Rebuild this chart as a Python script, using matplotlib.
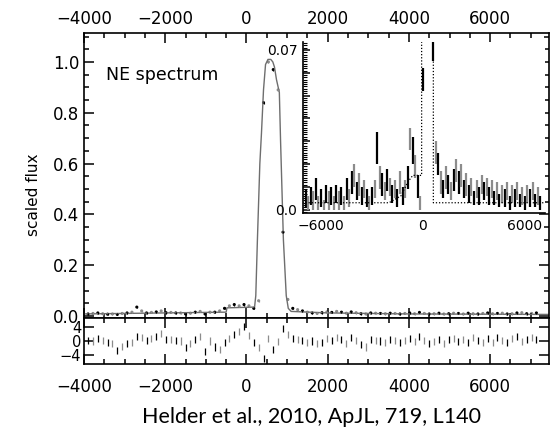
import numpy as np
import matplotlib.pyplot as plt
from matplotlib.ticker import MultipleLocator, FixedLocator, FuncFormatter

# main panel model (gray solid line), velocity in km/s
model_v = [-4000, -2000, -500, -480, 200, 230, 270, 330, 370, 420, 470, 530, 600,
           650, 690, 740, 810, 840, 910, 980, 1030, 1100, 2000, 4000, 7500]
model_f = [0.008, 0.012, 0.015, 0.032, 0.035, 0.08, 0.3, 0.6, 0.72, 0.89, 0.99, 1.01, 1.01,
           1.0, 0.98, 0.93, 0.88, 0.69, 0.3, 0.08, 0.03, 0.018, 0.012, 0.008, 0.006]

# binned data of the main panel and residuals (bins of 120 km/s from -3900)
main_flux = [0.008, 0.010, 0.012, 0.009, 0.007, 0.008, 0.006, 0.010, 0.012, 0.015,
             0.035, 0.020, 0.012, 0.014, 0.016, 0.020, 0.013, 0.014, 0.012, 0.012,
             0.008, 0.011, 0.015, 0.018, 0.008, 0.015, 0.015, 0.020, 0.030, 0.040,
             0.045, 0.040, 0.045, 0.040, 0.030, 0.060, 0.840, 1.000, 0.970, 0.890,
             0.330, 0.065, 0.030, 0.025, 0.020, 0.015, 0.012, 0.010, 0.013, 0.016,
             0.014, 0.018, 0.015, 0.011, 0.016, 0.013, 0.009, 0.008, 0.012, 0.011,
             0.010, 0.009, 0.011, 0.010, 0.008, 0.010, 0.012, 0.009, 0.014, 0.010,
             0.008, 0.009, 0.011, 0.008, 0.009, 0.011, 0.010, 0.008, 0.011, 0.009,
             0.008, 0.010, 0.012, 0.009, 0.010, 0.011, 0.008, 0.009, 0.012, 0.013,
             0.009, 0.010, 0.012]
residual = [0.2, 0.0, 0.6, 0.1, -0.3, -0.6, -2.8, -1.6, -0.8, -0.4,
            1.2, 0.9, 0.1, 0.6, 1.2, 2.2, 0.3, 0.4, 0.1, 0.0,
            -1.8, -0.6, 0.5, 1.3, -3.0, 0.0, -1.7, -2.3, -0.5, 0.6,
            1.8, 2.6, 4.0, 1.5, -0.5, -1.8, -5.0, 0.8, -2.3, -0.2,
            3.5, 1.8, 0.8, 0.4, 0.2, -0.3, 0.0, -0.8, -0.5, 0.6,
            0.2, 1.0, 0.5, -0.6, 0.9, 0.1, -0.9, -1.7, 0.3, 0.1,
            0.0, -0.3, 0.4, 0.1, -0.4, 0.2, 0.6, -0.2, 1.3, 0.2,
            -0.6, -0.1, 0.5, -0.7, 0.3, 0.8, -0.2, 0.4, -0.5, 0.9,
            0.1, -0.4, 0.6, -0.3, 1.0, 0.2, -0.5, 0.7, 1.2, -0.2,
            0.5, 1.0, 0.3]

# inset spectrum (bins of 150 km/s from -6900), flux and error in units of 1e-3
inset_flux = [5, 3, 6, 4, 9, 3, 5, 2, 7, 4,
              6, 3, 7, 4, 6, 3, 9, 5, 12, 15,
              8, 11, 6, 9, 5, 3, 6, 9, 27, 14,
              11, 8, 13, 10, 7, 9, 5, 12, 6, 9,
              14, 31, 26, 19, 10, 3, 57, 110, 120, 115,
              80, 25, 20, 12, 9, 14, 11, 8, 13, 17,
              12, 15, 9, 11, 7, 10, 5, 9, 6, 11,
              8, 10, 6, 9, 5, 8, 4, 7, 5, 8,
              3, 7, 5, 8, 4, 6, 3, 7, 5, 8,
              4, 6, 3]
inset_err = [4, 3, 4, 4, 5, 3, 4, 2, 4, 4,
             4, 3, 4, 4, 4, 3, 5, 4, 5, 5,
             4, 5, 4, 4, 4, 3, 4, 4, 7, 5,
             5, 4, 5, 4, 4, 4, 4, 5, 4, 4,
             5, 5, 6, 5, 5, 3, 5, 10, 10, 10,
             15, 5, 5, 5, 4, 5, 4, 4, 5, 5,
             5, 5, 4, 5, 4, 4, 3, 4, 4, 4,
             4, 4, 4, 4, 3, 4, 3, 4, 4, 4,
             3, 4, 4, 4, 3, 4, 3, 4, 4, 4,
             3, 4, 3]

# inset model (dotted)
inset_model_v = [-7100, -2000, -1300, -900, -600, -80, -80, 610, 610, 1200, 7300]
inset_model_f = [0.003, 0.003, 0.006, 0.012, 0.015, 0.015, 0.2, 0.2, 0.003, 0.003, 0.003]

bins_main = -3900 + 120 * np.arange(len(main_flux))
bins_inset = -6900 + 150 * np.arange(len(inset_flux))
cols_main = ['black' if i % 2 == 0 else '#8c8c8c' for i in range(len(main_flux))]
cols_inset = ['black' if i % 2 == 0 else '#8c8c8c' for i in range(len(inset_flux))]

W, H = 551, 432
fig = plt.figure(figsize=(W / 100, H / 100), dpi=100)

def box(l, r, t, b):
    return [l / W, 1 - b / H, (r - l) / W, (b - t) / H]

ax = fig.add_axes(box(84, 549, 33, 318))
axr = fig.add_axes(box(84, 549, 318, 364), sharex=ax)
axi = fig.add_axes(box(303, 545, 42, 213))

for a in (ax, axr, axi):
    for s in a.spines.values():
        s.set_linewidth(1.2)

minus = lambda v, p: f'{v:.0f}'.replace('-', '\u2212')

# main panel
ax.plot(model_v, model_f, color='#6e6e6e', lw=1.0)
mf = np.array(main_flux)
ax.vlines(bins_main, mf - 0.004, mf + 0.004, colors=cols_main, lw=0.8)
ax.scatter(bins_main, mf, s=1.5, c=cols_main)
ax.set_xlim(-4000, 7450)
ax.set_ylim(-0.008, 1.114)
ax.xaxis.set_major_locator(MultipleLocator(2000))
ax.xaxis.set_minor_locator(MultipleLocator(500))
ax.yaxis.set_major_locator(MultipleLocator(0.2))
ax.yaxis.set_minor_locator(MultipleLocator(0.05))
ax.yaxis.set_major_formatter(FuncFormatter(lambda v, p: f'{v:.1f}'))
ax.xaxis.set_major_formatter(FuncFormatter(minus))
ax.tick_params(which='both', direction='in', top=True, right=True,
               labeltop=True, labelbottom=False, labelsize=12, width=1.1)
ax.tick_params(which='major', length=7)
ax.tick_params(which='minor', length=3.5)
ax.text(-3450, 0.93, 'NE spectrum', fontsize=12.5)

# residual panel
res = np.array(residual)
axr.vlines(bins_main, res - 1.0, res + 1.0, colors=cols_main, lw=0.9)
axr.set_ylim(-6.5, 6.5)
axr.yaxis.set_major_locator(FixedLocator([-4, 0, 4]))
axr.yaxis.set_major_formatter(FuncFormatter(minus))
axr.tick_params(which='both', direction='in', top=True, right=True,
                labelsize=12, width=1.1)
axr.tick_params(axis='x', which='major', length=7, pad=10)
axr.tick_params(axis='x', which='minor', length=3.5)
axr.tick_params(axis='y', which='major', length=7, pad=2, labelsize=10.5)

# inset
fi = np.array(inset_flux) / 1000.0
ei = np.array(inset_err) / 1000.0
axi.vlines(bins_inset, fi - ei, fi + ei, colors=cols_inset, lw=1.6)
axi.plot(inset_model_v, inset_model_f, color='black', lw=0.9, ls=(0, (1, 1.5)))
axi.set_xlim(-7060, 7180)
axi.set_ylim(-0.0015, 0.0735)
axi.spines['top'].set_visible(False)
axi.spines['right'].set_visible(False)
axi.xaxis.set_major_locator(FixedLocator([-6000, 0, 6000]))
axi.xaxis.set_major_formatter(FuncFormatter(minus))
axi.yaxis.set_major_locator(MultipleLocator(0.01))
axi.yaxis.set_minor_locator(MultipleLocator(0.001))
axi.yaxis.set_major_formatter(FuncFormatter(
    lambda v, p: '0.0' if abs(v) < 1e-6 else ('0.07' if abs(v - 0.07) < 1e-6 else '')))
axi.tick_params(axis='x', direction='in', length=0, labelsize=10, pad=4)
axi.tick_params(axis='y', which='major', direction='in', length=5, width=1.1, labelsize=10, pad=4)
axi.tick_params(axis='y', which='minor', direction='in', length=3, width=0.8)

fig.text(33 / W, 1 - 195 / H, 'scaled flux', rotation=90, fontsize=11,
         ha='center', va='center')
fig.text(312 / W, 1 - 417 / H, 'Helder et al., 2010, ApJL, 719, L140',
         family='Lato', fontsize=15.5, ha='center', va='center')

fig.savefig('out.png', dpi=100)
